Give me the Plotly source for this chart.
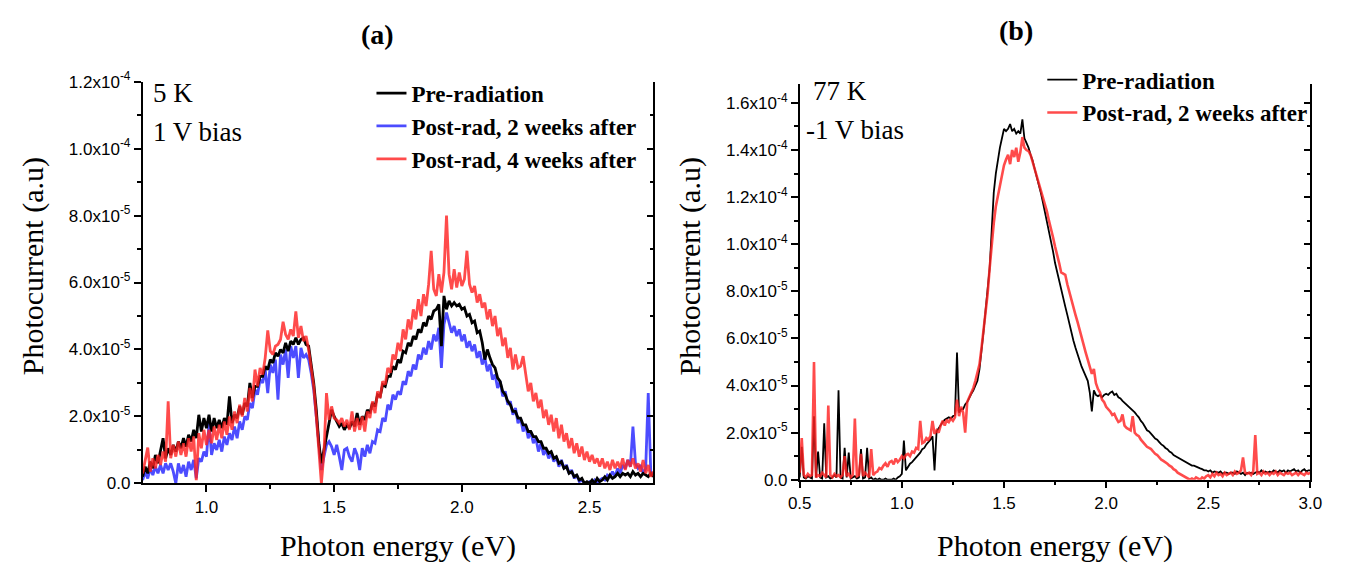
import numpy as np
import plotly.graph_objects as go

# ---------------- data (photocurrent in units of 1e-5 a.u.) ----------------
SCALE = 1e-5
energy_a = np.round(np.arange(0.75, 2.7501, 0.01), 2)   # eV, panel (a)
energy_b = np.round(np.arange(0.50, 3.0001, 0.01), 2)   # eV, panel (b)

# Panel (a): 5 K, 1 V bias
pre_a = [
    0.2, 0.5, 0.3, 0.65, 0.45, 0.85, 0.6, 0.95, 1.35, 0.75,
    1.05, 0.85, 1.15, 0.95, 1.25, 1.05, 1.35, 1.1, 1.45, 1.25,
    1.6, 1.35, 2.05, 1.55, 1.95, 1.65, 2.05, 1.55, 1.95, 1.65,
    1.9, 1.65, 1.95, 1.75, 2.6, 1.8, 2.05, 1.95, 2.3, 2.05,
    2.4, 2.3, 3.0, 2.55, 2.9, 2.9, 3.2, 3.2, 3.5, 3.4,
    3.7, 3.6, 3.9, 3.8, 4.0, 3.9, 4.2, 3.95, 4.25, 4.15,
    4.35, 4.15, 4.3, 4.35, 4.15, 4.1, 3.6, 3.0, 2.2, 1.2,
    0.6, 1.0, 1.5, 1.85, 2.2, 2.0, 1.85, 1.7, 1.8, 1.6,
    1.75, 1.65, 1.85, 1.7, 2.1, 1.75, 2.0, 1.9, 2.2, 2.1,
    2.4, 2.3, 2.65, 2.6, 2.95, 2.9, 3.2, 3.2, 3.5, 3.4,
    3.7, 3.6, 3.95, 3.9, 4.2, 4.1, 4.4, 4.3, 4.6, 4.5,
    4.8, 4.7, 5.0, 4.9, 5.15, 5.2, 5.35, 4.1, 5.6, 5.2,
    5.45, 5.3, 5.4, 5.3, 5.35, 5.2, 5.25, 5.0, 5.05, 4.8,
    4.85, 4.5, 4.55, 4.2, 3.7, 4.0, 3.75, 3.55, 3.45, 3.15,
    3.05, 2.75, 2.65, 2.45, 2.35, 2.15, 2.15, 1.95, 1.95, 1.75,
    1.75, 1.55, 1.55, 1.4, 1.4, 1.25, 1.25, 1.05, 1.05, 0.9,
    0.95, 0.75, 0.8, 0.6, 0.65, 0.45, 0.5, 0.3, 0.35, 0.2,
    0.25, 0.1, 0.15, 0.0, 0.05, 0.0, 0.1, 0.0, 0.15, 0.05,
    0.1, 0.2, 0.1, 0.25, 0.15, 0.2, 0.3, 0.2, 0.3, 0.25,
    0.3, 0.2, 0.35, 0.25, 0.3, 0.2, 0.3, 0.25, 0.2, 0.3,
    0.2,
]
post2w_a = [
    0.1, 0.35, 0.15, 0.45, 0.25, 0.5, 0.3, 0.55, 0.3, 0.6,
    0.4, 0.6, 0.35, 0.0, 0.6, 0.3, 0.55, 0.2, 0.65, 0.4,
    0.7, 0.15, 0.75, 0.65, 0.95, 0.8, 1.8, 0.85, 1.2, 1.0,
    1.3, 0.95, 1.4, 1.15, 1.5, 1.3, 1.7, 1.35, 1.85, 1.6,
    2.0, 1.9, 2.4, 2.25, 2.8, 2.65, 3.1, 3.0, 3.4, 2.7,
    3.55, 3.3, 3.7, 2.5, 3.85, 3.55, 4.0, 3.15, 4.1, 3.75,
    4.1, 3.15, 4.05, 3.75, 3.85, 3.7, 3.3, 2.8, 2.0, 1.2,
    0.4, 0.8, 1.15, 1.25, 1.1, 0.85, 1.15, 0.8, 0.4, 1.0,
    1.05, 0.8, 0.65, 1.05, 0.85, 0.4, 1.05, 0.8, 1.15, 0.9,
    1.25, 1.2, 1.6, 1.55, 1.95, 1.85, 2.35, 2.2, 2.65, 2.5,
    2.75, 2.65, 3.05, 2.95, 3.35, 3.2, 3.55, 3.4, 3.85, 3.7,
    4.05, 3.85, 4.25, 4.0, 4.45, 4.25, 4.65, 3.45, 4.75, 5.1,
    4.8, 4.5, 4.7, 4.4, 4.6, 4.25, 4.45, 4.05, 4.25, 3.95,
    4.15, 3.75, 3.95, 3.55, 3.75, 3.35, 3.55, 3.1, 3.25, 2.85,
    3.05, 2.6, 2.75, 2.35, 2.45, 2.05, 2.25, 1.8, 1.95, 1.55,
    1.75, 1.35, 1.55, 1.2, 1.35, 0.95, 1.2, 0.85, 1.0, 0.75,
    0.9, 0.65, 0.8, 0.5, 0.7, 0.45, 0.55, 0.3, 0.4, 0.15,
    0.25, 0.05, 0.1, 0.0, 0.0, 0.05, 0.0, 0.1, 0.0, 0.1,
    0.15, 0.1, 0.25, 0.2, 0.35, 0.2, 0.45, 0.3, 0.55, 0.45,
    0.7, 0.5, 1.7, 0.6, 0.45, 0.55, 0.3, 0.45, 2.7, 0.3,
    0.3,
]
post4w_a = [
    0.3, 0.65, 1.07, 0.35, 0.75, 0.45, 0.85, 0.55, 0.95, 0.65,
    2.45, 0.75, 1.15, 0.8, 1.25, 0.85, 1.2, 0.8, 1.35, 0.95,
    1.4, 0.1, 1.5, 1.05, 1.6, 1.15, 1.6, 1.2, 1.7, 1.3,
    1.75, 1.35, 1.85, 1.45, 2.0, 1.6, 2.15, 1.8, 2.35, 2.0,
    2.55, 2.15, 2.85, 2.45, 3.4, 2.9, 3.45, 3.25, 3.75, 4.57,
    3.95, 3.85, 4.1, 4.15, 4.3, 4.83, 4.45, 4.3, 4.6, 4.4,
    5.14, 4.35, 4.7, 4.25, 4.4, 4.0, 3.5, 2.9, 2.0, 1.0,
    0.0, 0.9, 2.7, 1.9, 2.3, 1.95, 1.9, 1.8, 1.95, 1.7,
    1.9, 1.6, 2.15, 1.55, 1.95, 1.6, 2.0, 1.55, 2.15, 1.95,
    2.45, 2.1, 2.75, 2.55, 3.05, 2.95, 3.45, 3.3, 3.85, 3.7,
    4.2, 3.95, 4.6, 4.3, 4.9, 4.6, 5.2, 4.9, 5.5, 5.0,
    5.65, 5.3, 5.95, 6.95, 5.8, 5.6, 6.25, 5.7, 6.3, 8.0,
    6.25, 5.8, 6.4, 5.85, 6.3, 5.9, 6.1, 6.95, 5.95, 5.7,
    5.9, 5.4, 5.65, 5.25, 5.4, 4.9, 5.2, 4.7, 5.0, 4.4,
    4.65, 4.1, 4.35, 3.75, 4.05, 3.4, 3.85, 3.45, 3.5, 3.8,
    3.2, 2.75, 3.0, 2.45, 2.7, 2.25, 2.5, 1.95, 2.2, 1.75,
    2.05, 1.55, 1.95, 1.35, 1.75, 1.25, 1.5, 1.05, 1.35, 0.9,
    1.2, 0.8, 1.1, 0.7, 0.95, 0.65, 0.85, 0.6, 0.75, 0.5,
    0.75, 0.45, 0.65, 0.4, 0.7, 0.45, 0.65, 0.45, 0.75, 0.4,
    0.7, 0.5, 0.75, 0.45, 0.6, 0.35, 0.7, 0.3, 0.55, 0.2,
    0.35,
]

# Panel (b): 77 K, -1 V bias
pre_b = [
    0.1, 1.4, 0.1, 0.05, 0.15, 0.1, 0.05, 2.7, 0.1, 1.2,
    0.1, 0.05, 2.4, 0.1, 0.15, 0.05, 0.1, 0.2, 0.1, 3.8,
    0.1, 0.05, 1.36, 0.1, 1.15, 0.05, 0.1, 0.15, 0.05, 0.1,
    1.3, 0.05, 0.1, 1.36, 0.05, 0.1, 0.0, 0.05, 0.0, 0.05,
    0.0, 0.0, 0.05, 0.0, 0.0, 0.0, 0.05, 0.0, 0.1, 0.15,
    0.25, 1.66, 0.4, 0.55, 0.68, 0.75, 0.85, 0.95, 1.05, 1.15,
    1.3, 1.35, 1.5, 1.6, 1.7, 1.85, 0.4, 2.05, 2.2, 2.3,
    2.45, 2.55, 2.6, 2.65, 2.6, 2.7, 2.75, 5.4, 2.85, 3.0,
    3.0, 3.2, 3.3, 3.5, 3.65, 3.8, 4.0, 4.2, 4.7, 5.4,
    6.3, 7.2, 8.1, 9.0, 10.6, 12.2, 13.0, 13.6, 14.1, 14.5,
    14.9, 14.8, 14.9, 15.1, 14.8, 14.9, 14.7, 14.8, 14.7, 15.3,
    14.5, 14.3, 14.1, 13.8, 13.55, 13.2, 12.9, 12.6, 12.2, 11.8,
    11.4, 11.0, 10.6, 10.1, 9.7, 9.2, 8.8, 8.4, 8.0, 7.7,
    7.35, 7.0, 6.6, 6.2, 5.9, 5.6, 5.3, 5.1, 4.8, 4.6,
    4.4, 4.2, 3.7, 2.9, 3.8, 3.6, 3.55, 3.6, 3.5, 3.6,
    3.65, 3.6, 3.7, 3.75, 3.6, 3.65, 3.5, 3.45, 3.35, 3.27,
    3.2, 3.1, 3.05, 2.95, 2.86, 2.75, 2.65, 2.5, 2.4, 2.25,
    2.1, 2.05, 1.97, 1.85, 1.75, 1.7, 1.6, 1.5, 1.45, 1.35,
    1.3, 1.2, 1.15, 1.05, 1.0, 0.95, 0.9, 0.85, 0.82, 0.75,
    0.7, 0.65, 0.6, 0.6, 0.55, 0.5, 0.48, 0.45, 0.4, 0.4,
    0.35, 0.4, 0.3, 0.35, 0.34, 0.3, 0.35, 0.25, 0.3, 0.3,
    0.25, 0.3, 0.3, 0.25, 0.35, 0.3, 0.25, 0.3, 0.2, 0.3,
    0.27, 0.3, 0.25, 0.3, 0.35, 0.3, 0.4, 0.3, 0.35, 0.3,
    0.35, 0.3, 0.4, 0.35, 0.3, 0.4, 0.35, 0.4, 0.3, 0.4,
    0.35, 0.4, 0.45, 0.35, 0.4, 0.3, 0.4, 0.45, 0.35, 0.4,
    0.4,
]
post2w_b = [
    0.3, 1.77, 0.2, 0.1, 0.25, 0.15, 0.2, 5.0, 0.1, 0.2,
    0.15, 0.3, 0.2, 0.1, 3.15, 0.2, 0.1, 0.25, 0.15, 0.2,
    0.1, 0.2, 1.0, 0.15, 0.25, 0.1, 0.2, 2.6, 0.15, 0.2,
    1.1, 0.15, 0.3, 0.2, 0.1, 1.3, 0.2, 0.3, 0.35, 0.5,
    0.45, 0.6, 0.7, 0.55, 0.75, 0.8, 0.65, 0.9, 0.75, 0.85,
    1.0, 0.9, 1.05, 1.1, 1.0, 1.2, 1.15, 1.35, 1.3, 2.5,
    1.55, 1.6, 1.77, 1.7, 1.85, 2.5, 1.95, 2.1, 2.0, 2.3,
    2.5, 2.3, 2.55, 2.45, 2.6, 2.5, 2.65, 3.4, 2.7, 3.1,
    2.85, 2.0, 3.3, 3.5, 3.7, 3.9, 4.2, 4.5, 4.9, 5.6,
    6.4, 6.95, 7.9, 9.0, 10.05, 10.9, 11.6, 12.05, 12.6, 13.0,
    13.35, 13.6, 13.8, 13.4, 14.0, 13.7, 14.1, 13.5, 13.9, 14.55,
    14.1, 14.0, 13.95, 13.8, 13.5, 13.3, 13.0, 12.7, 12.4, 12.1,
    11.8, 11.4, 11.0, 10.7, 10.3, 9.9, 9.6, 9.2, 8.8, 8.75,
    8.7, 8.3, 7.95, 7.7, 7.35, 7.0, 6.7, 6.35, 6.0, 5.7,
    5.4, 5.1, 4.8, 4.5, 4.7, 4.1, 3.85, 3.7, 3.4, 3.3,
    3.1, 3.0, 2.9, 2.75, 2.8, 2.6, 2.45, 2.5, 2.77, 2.3,
    2.2, 2.15, 2.1, 2.7, 2.0, 1.9, 1.85, 1.7, 1.6, 1.5,
    1.4, 1.35, 1.3, 1.2, 1.1, 1.05, 0.95, 0.85, 0.8, 0.75,
    0.68, 0.6, 0.55, 0.45, 0.4, 0.3, 0.25, 0.2, 0.14, 0.1,
    0.05, 0.0, 0.05, 0.0, 0.1, 0.05, 0.0, 0.1, 0.05, 0.15,
    0.2, 0.1, 0.25, 0.15, 0.3, 0.2, 0.25, 0.15, 0.3, 0.2,
    0.25, 0.3, 0.2, 0.35, 0.25, 0.3, 0.4, 0.95, 0.3, 0.25,
    0.3, 0.2, 0.35, 1.9, 0.25, 0.3, 0.2, 0.35, 0.25, 0.3,
    0.2, 0.3, 0.25, 0.35, 0.2, 0.3, 0.25, 0.2, 0.3, 0.25,
    0.3, 0.2, 0.25, 0.3, 0.2, 0.3, 0.25, 0.2, 0.3, 0.25,
    0.3,
]

assert len(pre_a) == len(post2w_a) == len(post4w_a) == len(energy_a)
assert len(pre_b) == len(post2w_b) == len(energy_b)

names = ["Pre-radiation", "Post-rad, 2 weeks after", "Post-rad, 4 weeks after"]
ytick_vals_a = [0, 2, 4, 6, 8, 10, 12]
ytick_text_a = ["0.0", "2.0x10<sup>-5</sup>", "4.0x10<sup>-5</sup>", "6.0x10<sup>-5</sup>",
                "8.0x10<sup>-5</sup>", "1.0x10<sup>-4</sup>", "1.2x10<sup>-4</sup>"]
ytick_vals_b = [0, 2, 4, 6, 8, 10, 12, 14, 16]
ytick_text_b = ["0.0", "2.0x10<sup>-5</sup>", "4.0x10<sup>-5</sup>", "6.0x10<sup>-5</sup>",
                "8.0x10<sup>-5</sup>", "1.0x10<sup>-4</sup>", "1.2x10<sup>-4</sup>",
                "1.4x10<sup>-4</sup>", "1.6x10<sup>-4</sup>"]

BLACK = "#000000"
BLUE = "rgba(45,45,255,0.85)"
RED = "rgba(255,35,35,0.82)"

W, H = 1346, 565
def px(x):
    return x / W
def py(y):
    return 1 - y / H

fig = go.Figure()

def scaled(v):
    return [val * SCALE for val in v]

# Panel (a)
fig.add_trace(go.Scatter(x=energy_a, y=scaled(post2w_a), mode="lines", name=names[1],
                         line=dict(color=BLUE, width=2.8), xaxis="x", yaxis="y",
                         legend="legend", legendrank=2, legendgroup="a2"))
fig.add_trace(go.Scatter(x=energy_a, y=scaled(pre_a), mode="lines", name=names[0],
                         line=dict(color=BLACK, width=2.8), xaxis="x", yaxis="y",
                         legend="legend", legendrank=1, legendgroup="a1"))
fig.add_trace(go.Scatter(x=energy_a, y=scaled(post4w_a), mode="lines", name=names[2],
                         line=dict(color=RED, width=2.8), xaxis="x", yaxis="y",
                         legend="legend", legendrank=3, legendgroup="a3"))
# Panel (b)
fig.add_trace(go.Scatter(x=energy_b, y=scaled(pre_b), mode="lines", name=names[0],
                         line=dict(color=BLACK, width=1.8), xaxis="x2", yaxis="y2",
                         legend="legend2", legendrank=1, legendgroup="b1"))
fig.add_trace(go.Scatter(x=energy_b, y=scaled(post2w_b), mode="lines", name=names[1],
                         line=dict(color=RED, width=2.6), xaxis="x2", yaxis="y2",
                         legend="legend2", legendrank=2, legendgroup="b2"))
# empty traces so the right-hand (inner tick) axes render
fig.add_trace(go.Scatter(x=[], y=[], xaxis="x", yaxis="y3", showlegend=False))
fig.add_trace(go.Scatter(x=[], y=[], xaxis="x2", yaxis="y4", showlegend=False))

tickfont = dict(family="Liberation Sans, Arial, sans-serif", size=17, color="black")
axis_common = dict(showline=True, linecolor="black", linewidth=1.5, ticks="outside",
                   ticklen=7, tickwidth=1.5, tickcolor="black", showgrid=False,
                   zeroline=False, tickfont=tickfont)
minor = dict(ticklen=4, tickwidth=1.5, tickcolor="black", showgrid=False)

dom_ax = [px(133), px(653)]
dom_bx = [px(802), px(1322)]
dom_ay = [py(490.5), py(72.5)]
dom_by = [py(486.7), py(75)]
range_ay = [0, 12.0 * SCALE]
range_by = [0, 16.8 * SCALE]

legend_font = dict(family="Liberation Serif, Times New Roman, serif", size=23,
                   color="black", weight="bold")

fig.update_layout(
    width=W, height=H, autosize=False,
    margin=dict(l=0, r=0, t=0, b=0),
    paper_bgcolor="white", plot_bgcolor="white",
    xaxis=dict(domain=dom_ax, range=[0.75, 2.75], anchor="y",
               tickvals=[1.0, 1.5, 2.0, 2.5], ticktext=["1.0", "1.5", "2.0", "2.5"],
               minor=dict(tickvals=[1.25, 1.75, 2.25], ticks="outside", **minor),
               **axis_common),
    yaxis=dict(domain=dom_ay, range=range_ay, anchor="x",
               tickvals=[v * SCALE for v in ytick_vals_a], ticktext=ytick_text_a,
               minor=dict(dtick=1 * SCALE, tick0=0, ticks="outside", **minor),
               **axis_common),
    yaxis3=dict(overlaying="y", anchor="x", side="right", range=range_ay,
                showline=True, linecolor="black", linewidth=1.5, ticks="inside",
                ticklen=7, tickwidth=1.5, tickcolor="black", showticklabels=False,
                tickvals=[v * SCALE for v in ytick_vals_a],
                minor=dict(dtick=1 * SCALE, tick0=0, ticks="inside", ticklen=4,
                           tickwidth=1.5, tickcolor="black"),
                showgrid=False, zeroline=False),
    xaxis2=dict(domain=dom_bx, range=[0.5, 3.0], anchor="y2",
                tickvals=[0.5, 1.0, 1.5, 2.0, 2.5, 3.0],
                ticktext=["0.5", "1.0", "1.5", "2.0", "2.5", "3.0"],
                minor=dict(tickvals=[0.75, 1.25, 1.75, 2.25, 2.75], ticks="outside", **minor),
                **axis_common),
    yaxis2=dict(domain=dom_by, range=range_by, anchor="x2",
                tickvals=[v * SCALE for v in ytick_vals_b], ticktext=ytick_text_b,
                minor=dict(dtick=1 * SCALE, tick0=0, ticks="outside", **minor),
                **axis_common),
    yaxis4=dict(overlaying="y2", anchor="x2", side="right", range=range_by,
                showline=True, linecolor="black", linewidth=1.5, ticks="inside",
                ticklen=7, tickwidth=1.5, tickcolor="black", showticklabels=False,
                tickvals=[v * SCALE for v in ytick_vals_b],
                minor=dict(dtick=1 * SCALE, tick0=0, ticks="inside", ticklen=4,
                           tickwidth=1.5, tickcolor="black"),
                showgrid=False, zeroline=False),
    legend=dict(x=px(366), y=py(62), xanchor="left", yanchor="top",
                bgcolor="rgba(0,0,0,0)", borderwidth=0, tracegroupgap=0,
                font=legend_font),
    legend2=dict(x=px(1049), y=py(48), xanchor="left", yanchor="top",
                 bgcolor="rgba(0,0,0,0)", borderwidth=0, tracegroupgap=0,
                 font=legend_font),
)

serif = "Liberation Serif, Times New Roman, serif"
annots = [
    dict(text="<b>(a)</b>", x=px(372), y=py(23), size=28),
    dict(text="<b>(b)</b>", x=px(1022), y=py(19), size=28),
    dict(text="Photocurrent (a.u)", x=px(21), y=py(265), size=30, angle=-90),
    dict(text="Photocurrent (a.u)", x=px(690), y=py(265), size=30, angle=-90),
    dict(text="Photon energy (eV)", x=px(393), y=py(556), size=30),
    dict(text="Photon energy (eV)", x=px(1062), y=py(556), size=30),
]
for a in annots:
    fig.add_annotation(text=a["text"], x=a["x"], y=a["y"], xref="paper", yref="paper",
                       xanchor="center", yanchor="middle", showarrow=False,
                       textangle=a.get("angle", 0),
                       font=dict(family=serif, size=a["size"], color="black"))

labels = [
    ("5 K", 142, 84), ("1 V bias", 142, 125),
    ("77 K", 814, 82), ("-1 V bias", 806, 123),
]
for t, x, y in labels:
    fig.add_annotation(text=t, x=px(x), y=py(y), xref="paper", yref="paper",
                       xanchor="left", yanchor="middle", showarrow=False,
                       font=dict(family=serif, size=27, color="black"))

fig.write_html("out.html")
